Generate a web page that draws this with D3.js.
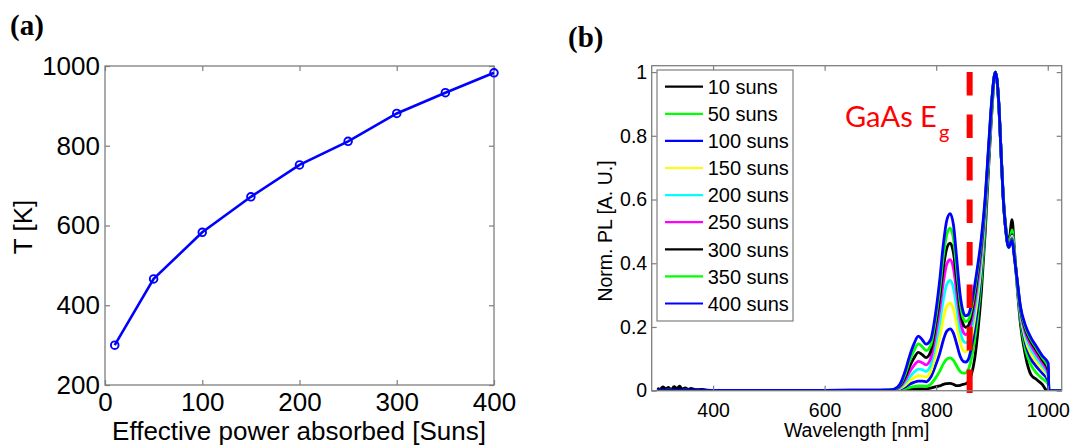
<!DOCTYPE html>
<html><head><meta charset="utf-8">
<script src="https://cdn.jsdelivr.net/npm/d3@7"></script>
<style>
body{margin:0;background:#fff}
svg{display:block}
text{font-family:"Liberation Sans",Arial,sans-serif}
</style>
</head><body>
<svg id="c" width="1074" height="445"></svg>
<script>
// ---------- Panel (a) data ----------
const sunsA = [10, 50, 100, 150, 200, 250, 300, 350, 400];
const tempA = [300, 466, 583, 672, 752, 811, 881, 933, 983];
const xTicksA = [0, 100, 200, 300, 400];
const yTicksA = [200, 400, 600, 800, 1000];

// ---------- Panel (b) data ----------
const wavelengths = [300,305,310,315,320,325,330,335,340,345,350,355,360,370,380,390,400,500,600,700,
  715,725,735,745,752,760,768,775,782,790,798,806,813,819,825,831,837,843,848,853,
  858,863,869,875,881,888,894,900,906,912,916,920,925,930,936,940,945,951,960,970,980,990,1001,1002,1025];

const pl10 = [0.008,0.004,0.012,0.006,0.010,0.003,0.013,0.007,0.014,0.005,0.009,0.004,0.007,0.003,0.004,0.002,0.001,0.001,0.000,0.001,
  0.002,0.002,0.003,0.003,0.004,0.005,0.006,0.006,0.006,0.008,0.012,0.015,0.020,0.022,0.023,0.020,0.016,0.017,0.020,0.022,
  0.030,0.050,0.100,0.190,0.310,0.500,0.700,0.880,1.000,0.900,0.760,0.620,0.510,0.465,0.537,0.450,0.330,0.210,0.110,0.050,0.035,0.020,-0.004,0,0];
const pl50 = [0.002,0.001,0.002,0.001,0.001,0.002,0.001,0.001,0.002,0.001,0.001,0.001,0.001,0.001,0.001,0.001,0.001,0.001,0.001,0.001,
  0.001,0.002,0.003,0.007,0.010,0.013,0.015,0.015,0.014,0.020,0.038,0.060,0.085,0.099,0.103,0.095,0.077,0.060,0.055,0.056,
  0.068,0.100,0.160,0.240,0.350,0.530,0.720,0.890,1.000,0.905,0.760,0.615,0.505,0.455,0.505,0.440,0.335,0.225,0.130,0.080,0.055,0.038,0.020,0,0];
const pl100 = [0.001,0.002,0.001,0.001,0.002,0.001,0.001,0.002,0.001,0.001,0.001,0.002,0.001,0.001,0.001,0.001,0.001,0.001,0.001,0.002,
  0.001,0.002,0.005,0.012,0.020,0.026,0.030,0.030,0.028,0.042,0.075,0.115,0.160,0.187,0.194,0.180,0.145,0.108,0.093,0.090,
  0.100,0.135,0.195,0.270,0.380,0.550,0.730,0.900,1.000,0.905,0.760,0.613,0.503,0.452,0.490,0.435,0.340,0.235,0.148,0.100,0.075,0.055,0.030,0,0];
const pl150 = [0.001,0.001,0.002,0.001,0.001,0.001,0.002,0.001,0.001,0.001,0.001,0.001,0.002,0.001,0.001,0.001,0.001,0.001,0.001,0.001,
  0.001,0.002,0.007,0.018,0.030,0.040,0.047,0.046,0.043,0.060,0.108,0.165,0.228,0.265,0.275,0.255,0.205,0.152,0.127,0.122,
  0.130,0.165,0.225,0.300,0.400,0.565,0.740,0.905,1.000,0.907,0.760,0.612,0.502,0.451,0.485,0.432,0.342,0.242,0.160,0.115,0.090,0.068,0.040,0,0];
const pl200 = [0.001,0.002,0.001,0.001,0.001,0.002,0.001,0.001,0.001,0.002,0.001,0.001,0.001,0.001,0.001,0.001,0.001,0.001,0.001,0.001,
  0.002,0.003,0.009,0.026,0.042,0.058,0.068,0.066,0.061,0.080,0.138,0.210,0.288,0.334,0.346,0.322,0.258,0.190,0.158,0.150,
  0.158,0.190,0.250,0.325,0.420,0.575,0.745,0.910,1.000,0.907,0.760,0.611,0.501,0.450,0.480,0.430,0.344,0.248,0.172,0.130,0.102,0.078,0.047,0,0];
const pl250 = [0.001,0.001,0.001,0.002,0.001,0.001,0.001,0.001,0.002,0.001,0.001,0.001,0.001,0.001,0.001,0.001,0.001,0.001,0.001,0.001,
  0.002,0.003,0.012,0.035,0.058,0.079,0.092,0.088,0.081,0.100,0.168,0.252,0.342,0.397,0.411,0.383,0.305,0.224,0.186,0.176,
  0.183,0.215,0.275,0.350,0.440,0.585,0.750,0.912,1.000,0.908,0.760,0.610,0.500,0.450,0.478,0.428,0.346,0.253,0.182,0.142,0.114,0.088,0.053,0,0];
const pl300 = [0.004,0.002,0.006,0.003,0.005,0.002,0.007,0.004,0.008,0.003,0.005,0.002,0.004,0.002,0.002,0.001,0.001,0.001,0.001,0.001,
  0.002,0.004,0.015,0.045,0.075,0.102,0.120,0.113,0.104,0.122,0.195,0.287,0.388,0.447,0.463,0.432,0.343,0.252,0.210,0.199,
  0.205,0.237,0.297,0.372,0.458,0.595,0.758,0.915,1.000,0.909,0.760,0.610,0.500,0.450,0.476,0.426,0.348,0.258,0.192,0.153,0.125,0.097,0.063,0,0];
const pl350 = [0.001,0.001,0.001,0.001,0.002,0.001,0.001,0.001,0.001,0.001,0.002,0.001,0.001,0.001,0.001,0.001,0.001,0.001,0.001,0.001,
  0.002,0.004,0.018,0.055,0.092,0.125,0.147,0.138,0.126,0.142,0.214,0.315,0.425,0.490,0.510,0.476,0.377,0.277,0.230,0.217,
  0.223,0.254,0.315,0.388,0.470,0.603,0.765,0.918,1.000,0.910,0.760,0.610,0.500,0.450,0.474,0.423,0.349,0.262,0.199,0.160,0.132,0.104,0.073,0,0];
const pl400 = [0.001,0.001,0.001,0.001,0.001,0.001,0.001,0.001,0.001,0.001,0.001,0.001,0.001,0.001,0.001,0.001,0.001,0.001,0.001,0.002,
  0.002,0.005,0.020,0.065,0.107,0.146,0.171,0.160,0.146,0.160,0.232,0.342,0.462,0.535,0.556,0.520,0.410,0.300,0.250,0.235,
  0.240,0.270,0.330,0.400,0.480,0.610,0.770,0.920,1.000,0.910,0.760,0.610,0.500,0.450,0.472,0.420,0.350,0.265,0.205,0.166,0.138,0.110,0.085,0,0];

const seriesLabels = ["10 suns","50 suns","100 suns","150 suns","200 suns","250 suns","300 suns","350 suns","400 suns"];
const xTicksB = [400, 600, 800, 1000];
const yTicksB = [0, 0.2, 0.4, 0.6, 0.8, 1];
const gaasEg = 860;

// ---------- drawing ----------
const seriesValues = [pl10, pl50, pl100, pl150, pl200, pl250, pl300, pl350, pl400];
const seriesColors = ["#000000","#00ff00","#0000ff","#ffff00","#00ffff","#ff00ff","#000000","#00ff00","#0000ff"];
const frameCol = "#7f7f7f";

const svg = d3.select("#c");
svg.append("rect").attr("width",1074).attr("height",445).attr("fill","#fff");

function boxAxes(g, x, y, xt, yt, fs, xFmt, yFmt, padX, padY){
  const [x0,x1] = x.range(), [y0,y1] = y.range();
  const ax = [
    [d3.axisBottom(x).tickValues(xt).tickFormat(xFmt).tickPadding(padX), 0, y0],
    [d3.axisTop(x).tickValues(xt).tickFormat(""), 0, y1],
    [d3.axisLeft(y).tickValues(yt).tickFormat(yFmt).tickPadding(padY), x0, 0],
    [d3.axisRight(y).tickValues(yt).tickFormat(""), x1, 0]
  ];
  ax.forEach(([a, tx, ty]) => {
    const gg = g.append("g").attr("transform",`translate(${tx},${ty})`)
      .call(a.tickSizeInner(-5).tickSizeOuter(0));
    gg.select(".domain").remove();
    gg.selectAll("line").attr("stroke",frameCol).attr("stroke-width",1.2);
    gg.selectAll("text").attr("fill","#000").style("font-size",fs+"px")
      .style("font-family",'"Liberation Sans",Arial,sans-serif');
  });
  g.append("rect").attr("x",x0).attr("y",y1).attr("width",x1-x0).attr("height",y0-y1)
    .attr("fill","none").attr("stroke",frameCol).attr("stroke-width",1.3);
}

// Panel (a)
const ga = svg.append("g");
const xa = d3.scaleLinear([0,400],[105,494]);
const ya = d3.scaleLinear([200,1000],[385,66]);
boxAxes(ga, xa, ya, xTicksA, yTicksA, 26, d3.format("d"), d3.format("d"), 8, 5);
const ptsA = sunsA.map((s,i)=>[s,tempA[i]]);
ga.append("path").datum(ptsA)
  .attr("d", d3.line().x(d=>xa(d[0])).y(d=>ya(d[1])))
  .attr("fill","none").attr("stroke","#0000ff").attr("stroke-width",2.6);
ga.selectAll("circle").data(ptsA).join("circle")
  .attr("cx",d=>xa(d[0])).attr("cy",d=>ya(d[1])).attr("r",3.8)
  .attr("fill","none").attr("stroke","#0000ff").attr("stroke-width",1.9);
ga.append("text").attr("x",299).attr("y",440).attr("text-anchor","middle")
  .style("font-size","26px").text("Effective power absorbed [Suns]");
ga.append("text").attr("transform","translate(23,227) rotate(-90)")
  .attr("text-anchor","middle").attr("dominant-baseline","central")
  .style("font-size","26px").text("T [K]");
svg.append("text").attr("x",10).attr("y",35)
  .style("font-family",'"Liberation Serif","Times New Roman",serif')
  .style("font-weight","bold").style("font-size","29px").text("(a)");

// Panel (b)
const gb = svg.append("g");
const xb = d3.scaleLinear([290,1025],[651.7,1061.7]);
const yb = d3.scaleLinear([0,1.02],[390.7,65.7]);
svg.append("defs").append("clipPath").attr("id","clipb").append("rect")
  .attr("x",651.7).attr("y",65.7).attr("width",410).attr("height",325);
const lineB = d3.line().x(d=>xb(d[0])).y(d=>yb(d[1])).curve(d3.curveMonotoneX);
const curves = gb.append("g").attr("clip-path","url(#clipb)");
seriesValues.forEach((vals,i)=>{
  curves.append("path").datum(wavelengths.map((w,j)=>[w,vals[j]]))
    .attr("d",lineB).attr("fill","none").attr("stroke",seriesColors[i])
    .attr("stroke-width",2.8).attr("stroke-linejoin","round");
});
// GaAs Eg marker
gb.append("line").attr("x1",xb(gaasEg)).attr("x2",xb(gaasEg))
  .attr("y1",yb(1.0)).attr("y2",yb(-0.008))
  .attr("stroke","#ff0000").attr("stroke-width",6).attr("stroke-dasharray","23.5,19");
boxAxes(gb, xb, yb, xTicksB, yTicksB, 19.5, d3.format("d"), d3.format("~g"), 12, 4.5);
gb.append("text").attr("x",856.7).attr("y",437).attr("text-anchor","middle")
  .style("font-size","19.5px").text("Wavelength [nm]");
gb.append("text").attr("transform","translate(605,231) rotate(-90)")
  .attr("text-anchor","middle").attr("dominant-baseline","central")
  .style("font-size","19.5px").text("Norm. PL [A. U.]");
// GaAs label (single text with subscript tspan)
const gl = gb.append("text").attr("x",845).attr("y",127).attr("fill","#ff0000")
  .style("font-family","Lato, 'Open Sans', sans-serif").style("font-size","29px");
gl.append("tspan").text("GaAs E");
gl.append("tspan").attr("dx",2).attr("dy",12).style("font-size","20px").text("g");
// Legend
const lg = gb.append("g");
lg.append("rect").attr("x",657).attr("y",70).attr("width",136).attr("height",251)
  .attr("fill","#fff").attr("stroke",frameCol).attr("stroke-width",1.2);
seriesLabels.forEach((lab,i)=>{
  const cy = 86.7 + i*27.1;
  lg.append("line").attr("x1",665).attr("x2",703).attr("y1",cy).attr("y2",cy)
    .attr("stroke",seriesColors[i]).attr("stroke-width",2.2);
  lg.append("text").attr("x",707.7).attr("y",cy).attr("dy","0.36em")
    .style("font-size","20px").attr("fill","#000").text(lab);
});
svg.append("text").attr("x",568).attr("y",47)
  .style("font-family",'"Liberation Serif","Times New Roman",serif')
  .style("font-weight","bold").style("font-size","29px").text("(b)");
</script>
</body></html>
